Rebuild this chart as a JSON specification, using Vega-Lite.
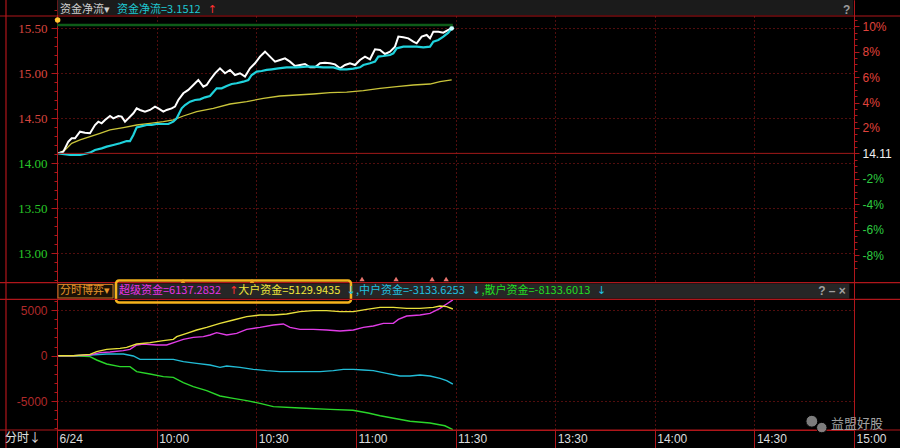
{
"$schema":"https://vega.github.io/schema/vega-lite/v6.json",
"width":797,"height":430,
"autosize":{"type":"none"},
"padding":{"left":57,"top":0,"right":46,"bottom":18},
"background":"#000000",
"config":{"view":{"stroke":null},"axis":{"titleOpacity":0,"labelOverlap":false,"labelFlush":false}},
"datasets":{
"top":[
{"m":0.4,"s":"avg","v":14.111},{"m":2.41,"s":"avg","v":14.148},{"m":4.42,"s":"avg","v":14.222},{"m":6.93,"s":"avg","v":14.259},{"m":9.94,"s":"avg","v":14.296},{"m":12.95,"s":"avg","v":14.333},{"m":15.96,"s":"avg","v":14.37},{"m":19.97,"s":"avg","v":14.396},{"m":23.99,"s":"avg","v":14.425},{"m":28,"s":"avg","v":14.444},{"m":32.02,"s":"avg","v":14.462},{"m":35.03,"s":"avg","v":14.481},{"m":38.04,"s":"avg","v":14.525},{"m":42.06,"s":"avg","v":14.573},{"m":47.08,"s":"avg","v":14.61},{"m":52.1,"s":"avg","v":14.658},{"m":57.12,"s":"avg","v":14.684},{"m":62.13,"s":"avg","v":14.721},{"m":67.15,"s":"avg","v":14.747},{"m":72.17,"s":"avg","v":14.758},{"m":77.19,"s":"avg","v":14.769},{"m":82.21,"s":"avg","v":14.784},{"m":87.23,"s":"avg","v":14.791},{"m":92.25,"s":"avg","v":14.806},{"m":97.27,"s":"avg","v":14.832},{"m":102.28,"s":"avg","v":14.851},{"m":107.3,"s":"avg","v":14.869},{"m":112.32,"s":"avg","v":14.88},{"m":115.33,"s":"avg","v":14.906},{"m":118.85,"s":"avg","v":14.925},
{"m":0.4,"s":"price","v":14.111},{"m":1.91,"s":"price","v":14.129},{"m":3.41,"s":"price","v":14.24},{"m":4.42,"s":"price","v":14.277},{"m":5.42,"s":"price","v":14.277},{"m":6.93,"s":"price","v":14.351},{"m":8.43,"s":"price","v":14.34},{"m":9.94,"s":"price","v":14.333},{"m":11.44,"s":"price","v":14.425},{"m":12.45,"s":"price","v":14.462},{"m":13.45,"s":"price","v":14.444},{"m":14.45,"s":"price","v":14.481},{"m":15.96,"s":"price","v":14.525},{"m":16.96,"s":"price","v":14.499},{"m":18.47,"s":"price","v":14.525},{"m":19.47,"s":"price","v":14.518},{"m":20.48,"s":"price","v":14.462},{"m":21.48,"s":"price","v":14.499},{"m":22.99,"s":"price","v":14.555},{"m":23.99,"s":"price","v":14.61},{"m":24.99,"s":"price","v":14.592},{"m":26.5,"s":"price","v":14.573},{"m":28,"s":"price","v":14.592},{"m":29.51,"s":"price","v":14.629},{"m":30.51,"s":"price","v":14.61},{"m":32.02,"s":"price","v":14.573},{"m":33.02,"s":"price","v":14.592},{"m":34.53,"s":"price","v":14.61},{"m":35.53,"s":"price","v":14.629},{"m":36.54,"s":"price","v":14.703},{"m":38.04,"s":"price","v":14.777},{"m":39.55,"s":"price","v":14.814},{"m":41.05,"s":"price","v":14.869},{"m":42.56,"s":"price","v":14.925},{"m":44.07,"s":"price","v":14.851},{"m":45.07,"s":"price","v":14.869},{"m":46.07,"s":"price","v":14.925},{"m":47.58,"s":"price","v":14.999},{"m":49.08,"s":"price","v":15.054},{"m":50.59,"s":"price","v":14.999},{"m":52.1,"s":"price","v":15.036},{"m":53.6,"s":"price","v":14.98},{"m":55.11,"s":"price","v":14.999},{"m":56.61,"s":"price","v":14.962},{"m":58.12,"s":"price","v":15.054},{"m":59.62,"s":"price","v":15.11},{"m":61.13,"s":"price","v":15.184},{"m":62.64,"s":"price","v":15.239},{"m":64.14,"s":"price","v":15.184},{"m":65.65,"s":"price","v":15.128},{"m":67.15,"s":"price","v":15.147},{"m":68.66,"s":"price","v":15.165},{"m":70.16,"s":"price","v":15.128},{"m":71.67,"s":"price","v":15.08},{"m":73.18,"s":"price","v":15.091},{"m":74.68,"s":"price","v":15.102},{"m":76.19,"s":"price","v":15.065},{"m":77.69,"s":"price","v":15.065},{"m":79.2,"s":"price","v":15.11},{"m":80.7,"s":"price","v":15.117},{"m":82.21,"s":"price","v":15.11},{"m":83.71,"s":"price","v":15.098},{"m":85.22,"s":"price","v":15.054},{"m":86.73,"s":"price","v":15.091},{"m":88.23,"s":"price","v":15.11},{"m":89.74,"s":"price","v":15.091},{"m":91.24,"s":"price","v":15.147},{"m":92.75,"s":"price","v":15.184},{"m":94.25,"s":"price","v":15.154},{"m":95.76,"s":"price","v":15.265},{"m":97.27,"s":"price","v":15.258},{"m":98.77,"s":"price","v":15.213},{"m":100.28,"s":"price","v":15.239},{"m":101.78,"s":"price","v":15.295},{"m":102.79,"s":"price","v":15.406},{"m":104.29,"s":"price","v":15.398},{"m":105.8,"s":"price","v":15.387},{"m":107.3,"s":"price","v":15.35},{"m":108.31,"s":"price","v":15.332},{"m":109.81,"s":"price","v":15.406},{"m":111.32,"s":"price","v":15.424},{"m":112.32,"s":"price","v":15.387},{"m":113.33,"s":"price","v":15.461},{"m":114.83,"s":"price","v":15.461},{"m":116.34,"s":"price","v":15.45},{"m":117.84,"s":"price","v":15.48},{"m":118.85,"s":"price","v":15.498},
{"m":0.4,"s":"net","v":14.111},{"m":3.91,"s":"net","v":14.092},{"m":6.93,"s":"net","v":14.092},{"m":9.94,"s":"net","v":14.118},{"m":11.44,"s":"net","v":14.148},{"m":13.45,"s":"net","v":14.166},{"m":14.96,"s":"net","v":14.185},{"m":16.96,"s":"net","v":14.203},{"m":18.97,"s":"net","v":14.222},{"m":20.98,"s":"net","v":14.247},{"m":21.98,"s":"net","v":14.247},{"m":22.99,"s":"net","v":14.314},{"m":23.99,"s":"net","v":14.399},{"m":24.99,"s":"net","v":14.407},{"m":27,"s":"net","v":14.425},{"m":28.51,"s":"net","v":14.425},{"m":30.01,"s":"net","v":14.436},{"m":32.02,"s":"net","v":14.436},{"m":33.53,"s":"net","v":14.436},{"m":35.03,"s":"net","v":14.462},{"m":36.04,"s":"net","v":14.499},{"m":37.54,"s":"net","v":14.61},{"m":38.55,"s":"net","v":14.647},{"m":40.05,"s":"net","v":14.684},{"m":41.56,"s":"net","v":14.703},{"m":43.06,"s":"net","v":14.71},{"m":44.57,"s":"net","v":14.732},{"m":46.07,"s":"net","v":14.747},{"m":48.08,"s":"net","v":14.832},{"m":49.59,"s":"net","v":14.832},{"m":51.09,"s":"net","v":14.858},{"m":52.6,"s":"net","v":14.88},{"m":54.1,"s":"net","v":14.888},{"m":56.11,"s":"net","v":14.906},{"m":57.62,"s":"net","v":14.925},{"m":58.62,"s":"net","v":14.98},{"m":60.13,"s":"net","v":15.017},{"m":61.63,"s":"net","v":15.024},{"m":63.14,"s":"net","v":15.036},{"m":64.64,"s":"net","v":15.043},{"m":66.65,"s":"net","v":15.054},{"m":69.16,"s":"net","v":15.065},{"m":72.17,"s":"net","v":15.065},{"m":75.18,"s":"net","v":15.072},{"m":77.19,"s":"net","v":15.072},{"m":80.2,"s":"net","v":15.065},{"m":83.21,"s":"net","v":15.065},{"m":85.22,"s":"net","v":15.043},{"m":87.23,"s":"net","v":15.043},{"m":89.24,"s":"net","v":15.05},{"m":91.24,"s":"net","v":15.065},{"m":92.25,"s":"net","v":15.091},{"m":94.25,"s":"net","v":15.11},{"m":95.76,"s":"net","v":15.128},{"m":96.76,"s":"net","v":15.184},{"m":98.27,"s":"net","v":15.191},{"m":100.28,"s":"net","v":15.202},{"m":101.28,"s":"net","v":15.221},{"m":102.28,"s":"net","v":15.276},{"m":104.29,"s":"net","v":15.295},{"m":106.3,"s":"net","v":15.295},{"m":108.31,"s":"net","v":15.295},{"m":110.31,"s":"net","v":15.287},{"m":112.32,"s":"net","v":15.295},{"m":113.33,"s":"net","v":15.35},{"m":114.83,"s":"net","v":15.369},{"m":116.34,"s":"net","v":15.406},{"m":117.84,"s":"net","v":15.45},{"m":118.85,"s":"net","v":15.498}
],
"bottom":[
{"m":0.4,"s":"small","v":0},{"m":4.92,"s":"small","v":0},{"m":9.94,"s":"small","v":-106},{"m":11.94,"s":"small","v":-472},{"m":14.96,"s":"small","v":-912},{"m":18.97,"s":"small","v":-1205},{"m":21.98,"s":"small","v":-1205},{"m":23.99,"s":"small","v":-1755},{"m":28,"s":"small","v":-2011},{"m":32.02,"s":"small","v":-2304},{"m":35.03,"s":"small","v":-2377},{"m":38.04,"s":"small","v":-2963},{"m":41.05,"s":"small","v":-3403},{"m":45.07,"s":"small","v":-3842},{"m":49.08,"s":"small","v":-4429},{"m":53.1,"s":"small","v":-4685},{"m":57.12,"s":"small","v":-4941},{"m":61.13,"s":"small","v":-5234},{"m":65.15,"s":"small","v":-5601},{"m":73.2,"s":"small","v":-5750},{"m":82.2,"s":"small","v":-5900},{"m":89.1,"s":"small","v":-6000},{"m":93.7,"s":"small","v":-6300},{"m":97.3,"s":"small","v":-6600},{"m":101.8,"s":"small","v":-6900},{"m":106.3,"s":"small","v":-7200},{"m":112.3,"s":"small","v":-7400},{"m":116.8,"s":"small","v":-7700},{"m":119.2,"s":"small","v":-8134},
{"m":0.4,"s":"medium","v":0},{"m":4.92,"s":"medium","v":0},{"m":9.94,"s":"medium","v":77},{"m":14.96,"s":"medium","v":187},{"m":19.97,"s":"medium","v":187},{"m":22.99,"s":"medium","v":-33},{"m":24.99,"s":"medium","v":-399},{"m":28,"s":"medium","v":-399},{"m":32.02,"s":"medium","v":-399},{"m":35.03,"s":"medium","v":-399},{"m":38.04,"s":"medium","v":-656},{"m":42.06,"s":"medium","v":-839},{"m":46.07,"s":"medium","v":-1022},{"m":49.08,"s":"medium","v":-1278},{"m":51.09,"s":"medium","v":-1132},{"m":55.11,"s":"medium","v":-1278},{"m":59.12,"s":"medium","v":-1498},{"m":63.14,"s":"medium","v":-1645},{"m":67.15,"s":"medium","v":-1755},{"m":71.17,"s":"medium","v":-1755},{"m":75.18,"s":"medium","v":-1755},{"m":79.2,"s":"medium","v":-1755},{"m":83.21,"s":"medium","v":-1645},{"m":86.22,"s":"medium","v":-1498},{"m":89.24,"s":"medium","v":-1498},{"m":92.25,"s":"medium","v":-1571},{"m":95.26,"s":"medium","v":-1645},{"m":99.27,"s":"medium","v":-1938},{"m":103.29,"s":"medium","v":-2231},{"m":106.3,"s":"medium","v":-2231},{"m":109.31,"s":"medium","v":-2121},{"m":112.32,"s":"medium","v":-2231},{"m":115.33,"s":"medium","v":-2487},{"m":117.34,"s":"medium","v":-2744},{"m":119.2,"s":"medium","v":-3134},
{"m":0.4,"s":"super","v":0},{"m":4.92,"s":"super","v":0},{"m":9.94,"s":"super","v":77},{"m":12.95,"s":"super","v":333},{"m":15.96,"s":"super","v":407},{"m":19.97,"s":"super","v":553},{"m":21.98,"s":"super","v":700},{"m":23.99,"s":"super","v":1176},{"m":26,"s":"super","v":1286},{"m":30.01,"s":"super","v":1176},{"m":33.02,"s":"super","v":1176},{"m":36.04,"s":"super","v":1542},{"m":38.04,"s":"super","v":1799},{"m":41.05,"s":"super","v":2019},{"m":44.07,"s":"super","v":2092},{"m":46.07,"s":"super","v":2275},{"m":48.08,"s":"super","v":2531},{"m":51.09,"s":"super","v":2275},{"m":54.1,"s":"super","v":2458},{"m":57.12,"s":"super","v":2897},{"m":61.13,"s":"super","v":3117},{"m":65.15,"s":"super","v":3374},{"m":68.16,"s":"super","v":3484},{"m":70.16,"s":"super","v":3117},{"m":73.18,"s":"super","v":2897},{"m":77.19,"s":"super","v":2897},{"m":81.21,"s":"super","v":2824},{"m":85.22,"s":"super","v":2714},{"m":89.24,"s":"super","v":2824},{"m":92.25,"s":"super","v":3117},{"m":95.26,"s":"super","v":3264},{"m":98.27,"s":"super","v":3557},{"m":101.28,"s":"super","v":3557},{"m":102.79,"s":"super","v":3996},{"m":105.3,"s":"super","v":4363},{"m":109.31,"s":"super","v":4473},{"m":112.32,"s":"super","v":4656},{"m":115.33,"s":"super","v":5205},{"m":117.34,"s":"super","v":5681},{"m":119.2,"s":"super","v":6137},
{"m":0.4,"s":"large","v":0},{"m":4.92,"s":"large","v":0},{"m":9.94,"s":"large","v":150},{"m":11.94,"s":"large","v":443},{"m":14.96,"s":"large","v":700},{"m":18.97,"s":"large","v":810},{"m":20.98,"s":"large","v":919},{"m":23.99,"s":"large","v":1286},{"m":28,"s":"large","v":1432},{"m":32.02,"s":"large","v":1652},{"m":35.03,"s":"large","v":1799},{"m":36.04,"s":"large","v":2092},{"m":39.05,"s":"large","v":2458},{"m":42.06,"s":"large","v":2824},{"m":45.07,"s":"large","v":3117},{"m":49.08,"s":"large","v":3557},{"m":53.1,"s":"large","v":3923},{"m":57.12,"s":"large","v":4289},{"m":61.13,"s":"large","v":4473},{"m":65.15,"s":"large","v":4473},{"m":69.16,"s":"large","v":4582},{"m":73.18,"s":"large","v":4839},{"m":77.19,"s":"large","v":4949},{"m":81.21,"s":"large","v":4949},{"m":85.22,"s":"large","v":4839},{"m":89.24,"s":"large","v":4839},{"m":93.25,"s":"large","v":5095},{"m":97.27,"s":"large","v":5315},{"m":101.28,"s":"large","v":5315},{"m":105.3,"s":"large","v":5205},{"m":109.31,"s":"large","v":5205},{"m":113.33,"s":"large","v":5315},{"m":115.33,"s":"large","v":5462},{"m":117.34,"s":"large","v":5388},{"m":119.2,"s":"large","v":5130}
],
"sigRed":[{"m":91.85},{"m":102.1},{"m":112.96},{"m":117.18}],
"sigOrange":[{"m":37.94},{"m":58.72}]
},
"resolve":{"scale":{"y":"independent"},"axis":{"y":"independent"}},
"layer":[
{"layer":[
{"data":{"name":"top"},"transform":[{"filter":"datum.s=='avg'"}],"mark":{"type":"line","color":"#c9c43a","strokeWidth":1.3},
"encoding":{
"x":{"field":"m","type":"quantitative","scale":{"domain":[0,240],"nice":false,"zero":false},
"axis":{"title":null,"orient":"bottom","values":[0,30,60,90,120,150,180,210,240],"labelExpr":"['6/24','10:00','10:30','11:00','11:30','13:30','14:00','14:30','15:00'][round(datum.value/30)]","grid":true,"gridColor":"#a31c1c","gridDash":[1,3],"gridWidth":1,"domainColor":"#b0161b","tickColor":"#b0161b","tickSize":18,"labelAlign":"left","labelBaseline":"middle","labelPadding":-10,"labelOffset":2,"labelColor":"#dcdcdc","labelFont":"Liberation Sans Narrow, Liberation Sans","labelFontSize":12}},
"y":{"field":"v","type":"quantitative","scale":{"domain":[11.04,15.8124],"nice":false,"zero":false},
"axis":{"title":null,"orient":"left","values":[13,13.5,14,14.5,15,15.5],"format":".2f","grid":true,"gridColor":"#a31c1c","gridDash":[1,3],"gridWidth":1,"domainColor":"#b0161b","tickColor":"#b0161b","tickSize":6,"labelPadding":4,"labelFont":"Liberation Serif","labelFontSize":13,"labelColor":{"condition":{"test":"datum.value > 14.11","value":"#d8463f"},"value":"#28c828"}}}}},
{"data":{"name":"top"},"transform":[{"filter":"datum.s=='price'"}],"mark":{"type":"line","color":"#ffffff","strokeWidth":2},"encoding":{"x":{"field":"m","type":"quantitative"},"y":{"field":"v","type":"quantitative"}}},
{"data":{"name":"top"},"transform":[{"filter":"datum.s=='net'"}],"mark":{"type":"line","color":"#1fd2dc","strokeWidth":2.2},"encoding":{"x":{"field":"m","type":"quantitative"},"y":{"field":"v","type":"quantitative"}}},
{"data":{"name":"top"},"transform":[{"filter":"datum.s=='net' && datum.m > 118"}],"mark":{"type":"point","filled":true,"color":"#c8ffff","size":22,"opacity":1},"encoding":{"x":{"field":"m","type":"quantitative"},"y":{"field":"v","type":"quantitative"}}},
{"data":{"values":[{}]},"mark":{"type":"rect","color":"#1b1b1b"},"encoding":{"x":{"datum":0.15,"type":"quantitative"},"x2":{"datum":239.8},"y":{"datum":15.8124,"type":"quantitative"},"y2":{"datum":15.646}}},
{"data":{"values":[{}]},"mark":{"type":"rule","color":"#0e5c18","strokeWidth":2.5},"encoding":{"x":{"datum":0,"type":"quantitative"},"x2":{"datum":119.2},"y":{"datum":15.535,"type":"quantitative"}}},
{"data":{"values":[{}]},"mark":{"type":"point","filled":true,"color":"#ffc632","size":30,"opacity":1},"encoding":{"x":{"datum":0.2,"type":"quantitative"},"y":{"datum":15.5904,"type":"quantitative"}}},
{"data":{"values":[{}]},"mark":{"type":"rule","color":"#b0161b","strokeWidth":1.2},"encoding":{"x":{"datum":-17.164,"type":"quantitative"},"x2":{"datum":253.85},"y":{"datum":15.6348,"type":"quantitative"}}},
{"data":{"values":[{}]},"mark":{"type":"rule","color":"#b0161b","strokeWidth":1.2},"encoding":{"x":{"datum":-17.164,"type":"quantitative"},"x2":{"datum":253.85},"y":{"datum":12.6748,"type":"quantitative"}}},
{"data":{"values":[{}]},"mark":{"type":"text","text":"资金净流▾","align":"left","baseline":"middle","color":"#cfcfcf","font":"Noto Sans CJK SC","fontSize":11},"encoding":{"x":{"datum":0.9,"type":"quantitative"},"y":{"datum":15.7,"type":"quantitative"}}},
{"data":{"values":[{}]},"mark":{"type":"text","text":"资金净流=3.1512","align":"left","baseline":"middle","color":"#1ec8d2","font":"Noto Sans CJK SC","fontSize":11},"encoding":{"x":{"datum":18.07,"type":"quantitative"},"y":{"datum":15.7,"type":"quantitative"}}},
{"data":{"values":[{}]},"mark":{"type":"text","text":"↑","align":"left","baseline":"middle","color":"#ff3030","font":"DejaVu Sans","fontSize":11},"encoding":{"x":{"datum":45.4,"type":"quantitative"},"y":{"datum":15.7,"type":"quantitative"}}},
{"data":{"values":[{}]},"mark":{"type":"text","text":"?","align":"left","baseline":"middle","color":"#9a9a9a","font":"Liberation Sans","fontSize":12,"fontWeight":"bold"},"encoding":{"x":{"datum":236.7,"type":"quantitative"},"y":{"datum":15.7,"type":"quantitative"}}}
]},
{"data":{"values":[{}]},"mark":{"type":"rule","color":"#a01818","strokeWidth":1},
"encoding":{"y":{"datum":14.11,"type":"quantitative","scale":{"domain":[11.04,15.8124],"nice":false,"zero":false},
"axis":{"title":null,"orient":"right","values":[15.521,15.2388,14.9566,14.6744,14.3922,14.11,13.8278,13.5456,13.2634,12.9812],"labelExpr":"abs(datum.value-14.11) < 0.01 ? '14.11' : round((datum.value/14.11-1)*100) + '%'","grid":false,"domainColor":"#b0161b","tickColor":"#b0161b","tickSize":5,"labelPadding":3,"labelFont":"Liberation Sans","labelFontSize":12,"labelColor":{"condition":[{"test":"datum.value > 14.2","value":"#e0433c"},{"test":"datum.value < 14.0","value":"#2ecc40"}],"value":"#f0f0f0"}}}}},
{"layer":[
{"data":{"name":"bottom"},"mark":{"type":"line","strokeWidth":1.4},
"encoding":{"x":{"field":"m","type":"quantitative"},
"y":{"field":"v","type":"quantitative","scale":{"domain":[-8165,39088],"nice":false,"zero":false},
"axis":{"title":null,"orient":"left","values":[-5000,0,5000],"labelExpr":"datum.value + ''","grid":true,"gridColor":"#a31c1c","gridDash":[1,3],"gridOpacity":{"condition":{"test":"datum.value == 0","value":0},"value":1},"domainColor":"#b0161b","tickColor":"#b0161b","tickSize":6,"labelPadding":4,"labelFont":"Liberation Sans","labelFontSize":12,"labelColor":"#b02a2a"}},
"color":{"field":"s","type":"nominal","scale":{"domain":["small","medium","super","large"],"range":["#2ad62a","#22bcd6","#e03ce6","#e8e03c"]},"legend":null}}},
{"data":{"values":[{}]},"mark":{"type":"rect","color":"#262626"},"encoding":{"x":{"datum":0.15,"type":"quantitative"},"x2":{"datum":238.6},"y":{"datum":7934,"type":"quantitative"},"y2":{"datum":6286}}},
{"data":{"values":[{}]},"mark":{"type":"rect","fill":"#1a1206","stroke":"#c87820","strokeWidth":1},"encoding":{"x":{"datum":0.3,"type":"quantitative"},"x2":{"datum":16.86},"y":{"datum":7824,"type":"quantitative"},"y2":{"datum":6340}}},
{"data":{"values":[{}]},"mark":{"type":"rect","fillOpacity":0,"stroke":"#f5b31c","strokeWidth":2.5,"cornerRadius":3},"encoding":{"x":{"datum":17.77,"type":"quantitative"},"x2":{"datum":88.53},"y":{"datum":8264,"type":"quantitative"},"y2":{"datum":5846}}},
{"data":{"name":"sigRed"},"mark":{"type":"point","shape":"triangle-up","filled":true,"color":"#e8736c","size":28,"opacity":1},"encoding":{"x":{"field":"m","type":"quantitative"},"y":{"datum":8429,"type":"quantitative"}}},
{"data":{"name":"sigOrange"},"mark":{"type":"point","shape":"triangle-up","filled":true,"color":"#f0a020","size":20,"opacity":1},"encoding":{"x":{"field":"m","type":"quantitative"},"y":{"datum":8209,"type":"quantitative"}}},
{"data":{"values":[{}]},"mark":{"type":"text","text":"分时博弈▾","align":"left","baseline":"middle","color":"#e8962a","font":"Noto Sans CJK SC","fontSize":11},"encoding":{"x":{"datum":0.9,"type":"quantitative"},"y":{"datum":7055,"type":"quantitative"}}},
{"data":{"values":[{}]},"mark":{"type":"text","text":"超级资金=6137.2832","align":"left","baseline":"middle","color":"#e632e6","font":"Noto Sans CJK SC","fontSize":11},"encoding":{"x":{"datum":18.67,"type":"quantitative"},"y":{"datum":7055,"type":"quantitative"}}},
{"data":{"values":[{}]},"mark":{"type":"text","text":"↑","align":"left","baseline":"middle","color":"#ff3030","font":"DejaVu Sans","fontSize":11},"encoding":{"x":{"datum":51.9,"type":"quantitative"},"y":{"datum":7055,"type":"quantitative"}}},
{"data":{"values":[{}]},"mark":{"type":"text","text":"大户资金=5129.9435","align":"left","baseline":"middle","color":"#f0e63c","font":"Noto Sans CJK SC","fontSize":11},"encoding":{"x":{"datum":54.6,"type":"quantitative"},"y":{"datum":7055,"type":"quantitative"}}},
{"data":{"values":[{}]},"mark":{"type":"text","text":"↓","align":"left","baseline":"middle","color":"#20c0e0","font":"DejaVu Sans","fontSize":11},"encoding":{"x":{"datum":87.2,"type":"quantitative"},"y":{"datum":7055,"type":"quantitative"}}},
{"data":{"values":[{}]},"mark":{"type":"text","text":",中户资金=-3133.6253","align":"left","baseline":"middle","color":"#20c0e0","font":"Noto Sans CJK SC","fontSize":11},"encoding":{"x":{"datum":90.0,"type":"quantitative"},"y":{"datum":7055,"type":"quantitative"}}},
{"data":{"values":[{}]},"mark":{"type":"text","text":"↓","align":"left","baseline":"middle","color":"#20c0e0","font":"DejaVu Sans","fontSize":11},"encoding":{"x":{"datum":124.9,"type":"quantitative"},"y":{"datum":7055,"type":"quantitative"}}},
{"data":{"values":[{}]},"mark":{"type":"text","text":",散户资金=-8133.6013","align":"left","baseline":"middle","color":"#22dd22","font":"Noto Sans CJK SC","fontSize":11},"encoding":{"x":{"datum":127.8,"type":"quantitative"},"y":{"datum":7055,"type":"quantitative"}}},
{"data":{"values":[{}]},"mark":{"type":"text","text":"↓","align":"left","baseline":"middle","color":"#20c0e0","font":"DejaVu Sans","fontSize":11},"encoding":{"x":{"datum":162.6,"type":"quantitative"},"y":{"datum":7055,"type":"quantitative"}}},
{"data":{"values":[{}]},"mark":{"type":"text","text":"? – ×","align":"left","baseline":"middle","color":"#a0a0a0","font":"Liberation Sans","fontSize":12,"fontWeight":"bold"},"encoding":{"x":{"datum":229.2,"type":"quantitative"},"y":{"datum":7055,"type":"quantitative"}}},
{"data":{"values":[{}]},"mark":{"type":"rule","color":"#b0161b","strokeWidth":1.2},"encoding":{"x":{"datum":-17.164,"type":"quantitative"},"x2":{"datum":253.85},"y":{"datum":6198,"type":"quantitative"}}},
{"data":{"values":[{}]},"mark":{"type":"rule","color":"#b0161b","strokeWidth":1.2},"encoding":{"x":{"datum":-17.164,"type":"quantitative"},"x2":{"datum":253.85},"y":{"datum":-8165,"type":"quantitative"}}},
{"data":{"values":[{}]},"mark":{"type":"rule","color":"#b0161b","strokeWidth":1.2},"encoding":{"x":{"datum":-15.36,"type":"quantitative"},"y":{"datum":-10143,"type":"quantitative"},"y2":{"datum":39088}}},
{"data":{"values":[{}]},"mark":{"type":"text","text":"分时↓","align":"left","baseline":"middle","color":"#e0e0e0","font":"Noto Sans CJK SC","fontSize":12},"encoding":{"x":{"datum":-15.66,"type":"quantitative"},"y":{"datum":-9044,"type":"quantitative"}}},
{"data":{"values":[{}]},"mark":{"type":"point","filled":true,"color":"#8a8a8a","size":140,"opacity":0.9,"stroke":"#000000","strokeWidth":1},"encoding":{"x":{"datum":227.3,"type":"quantitative"},"y":{"datum":-7200,"type":"quantitative"}}},
{"data":{"values":[{}]},"mark":{"type":"point","filled":true,"color":"#8a8a8a","size":110,"opacity":0.9,"stroke":"#000000","strokeWidth":1},"encoding":{"x":{"datum":230.3,"type":"quantitative"},"y":{"datum":-7900,"type":"quantitative"}}},
{"data":{"values":[{}]},"mark":{"type":"text","text":"益盟好股","align":"left","baseline":"middle","color":"#a0a0a0","font":"Noto Sans CJK SC","fontSize":13},"encoding":{"x":{"datum":233.1,"type":"quantitative"},"y":{"datum":-7505,"type":"quantitative"}}}
]},
{"data":{"values":[{}]},"mark":{"type":"rule","opacity":0},"encoding":{"y":{"datum":14,"type":"quantitative","scale":{"domain":[11.04,15.8124],"nice":false,"zero":false},"axis":{"title":null,"orient":"left","values":[12.7,12.8,12.9,13.1,13.2,13.3,13.4,13.6,13.7,13.8,13.9,14.1,14.2,14.3,14.4,14.6,14.7,14.8,14.9,15.1,15.2,15.3,15.4,15.6,15.7],"labels":false,"domain":false,"grid":false,"tickSize":3,"tickColor":"#b0161b"}}}},
{"data":{"values":[{}]},"mark":{"type":"rule","opacity":0},"encoding":{"y":{"datum":0,"type":"quantitative","scale":{"domain":[-8165,39088],"nice":false,"zero":false},"axis":{"title":null,"orient":"left","values":[-8000,-7000,-6000,-4000,-3000,-2000,-1000,1000,2000,3000,4000,6000],"labels":false,"domain":false,"grid":false,"tickSize":3,"tickColor":"#b0161b"}}}},
{"data":{"values":[{}]},"mark":{"type":"rule","opacity":0},"encoding":{"y":{"datum":14,"type":"quantitative","scale":{"domain":[11.04,15.8124],"nice":false,"zero":false},"axis":{"title":null,"orient":"right","values":[15.5916,15.4505,15.3799,15.3094,15.1683,15.0977,15.0272,14.8861,14.8155,14.745,14.6039,14.5333,14.4628,14.3217,14.2511,14.1806,14.0395,13.9689,13.8984,13.7573,13.6867,13.6162,13.4751,13.4045,13.334,13.1929,13.1223,13.0518,12.9107,12.8401],"labels":false,"domain":false,"grid":false,"tickSize":3,"tickColor":"#b0161b"}}}}
]
}
